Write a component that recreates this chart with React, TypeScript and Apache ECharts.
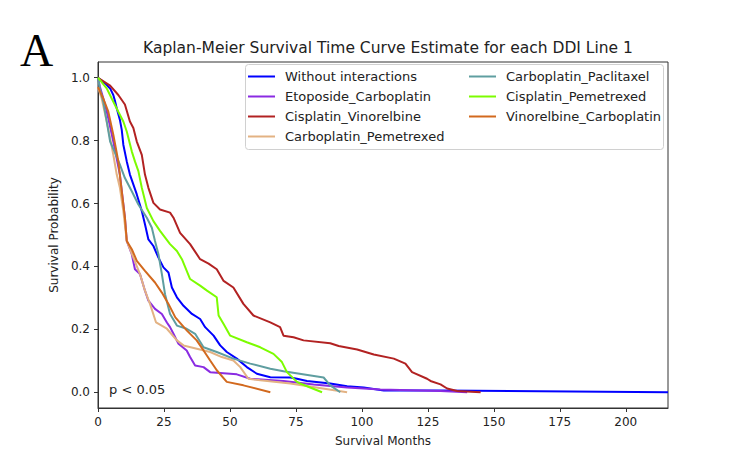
import React, { useEffect, useRef } from "react";
import * as echarts from "echarts";

// ---- Data ----
const titleText = "Kaplan-Meier Survival Time Curve Estimate for each DDI Line 1";
const xTicks = [0, 25, 50, 75, 100, 125, 150, 175, 200];
const yTicks = [0, 0.2, 0.4, 0.6, 0.8, 1.0];

const seriesNames = [
  "Without interactions",
  "Etoposide_Carboplatin",
  "Cisplatin_Vinorelbine",
  "Carboplatin_Pemetrexed",
  "Carboplatin_Paclitaxel",
  "Cisplatin_Pemetrexed",
  "Vinorelbine_Carboplatin",
];
const seriesColors = ["#0000ff", "#8a2be2", "#b22222", "#e3b283", "#5f9ea0", "#7cfc00", "#d2691e"];

const withoutMonths = [0, 2.7, 4.6, 5.8, 6.5, 7.1, 8.3, 9.0, 9.6, 10.9, 12.1, 14.7, 16.6, 17.8, 19.1, 21.0, 22.9, 24.8, 26.7, 28.0, 29.9, 32.4, 35.6, 38.7, 40.6, 43.8, 46.3, 48.8, 52.6, 56.4, 60.2, 65.3, 72.9, 75.4, 79.2, 88.0, 94.4, 100.7, 108.3, 129.8, 216];
const withoutSurv = [1.0, 0.982, 0.966, 0.945, 0.924, 0.903, 0.866, 0.834, 0.787, 0.734, 0.692, 0.629, 0.576, 0.534, 0.486, 0.465, 0.428, 0.397, 0.381, 0.333, 0.302, 0.275, 0.249, 0.233, 0.207, 0.18, 0.149, 0.128, 0.107, 0.08, 0.059, 0.048, 0.047, 0.043, 0.036, 0.028, 0.019, 0.015, 0.006, 0.006, 0.0];

const etoposideMonths = [0, 0.7, 2.7, 3.9, 5.8, 8.3, 10.2, 10.9, 12.8, 14.0, 15.9, 17.8, 19.1, 21.6, 24.2, 26.1, 27.3, 28.6, 30.5, 33.6, 34.9, 36.8, 40.0, 42.5, 52.6, 57.7, 70.3, 81.7, 94.4, 107.0, 129.8, 139.9];
const etoposideSurv = [1.0, 0.972, 0.914, 0.871, 0.797, 0.692, 0.555, 0.481, 0.439, 0.391, 0.376, 0.323, 0.291, 0.265, 0.249, 0.222, 0.207, 0.186, 0.154, 0.133, 0.112, 0.085, 0.08, 0.064, 0.057, 0.043, 0.036, 0.025, 0.015, 0.009, 0.004, 0.0];

const cisVinMonths = [0, 4.6, 7.7, 10.2, 12.1, 13.4, 14.7, 16.6, 17.8, 19.1, 21.0, 23.5, 27.3, 28.6, 31.1, 34.9, 38.7, 41.9, 45.0, 47.6, 51.3, 55.1, 58.9, 65.3, 69.0, 70.3, 74.1, 77.9, 88.0, 91.2, 98.2, 104.5, 112.1, 116.5, 119.0, 124.7, 126.0, 129.8, 132.3, 136.1, 145];
const cisVinSurv = [1.0, 0.975, 0.945, 0.915, 0.861, 0.84, 0.797, 0.755, 0.692, 0.65, 0.602, 0.581, 0.571, 0.555, 0.507, 0.471, 0.423, 0.409, 0.391, 0.354, 0.333, 0.281, 0.244, 0.222, 0.207, 0.18, 0.175, 0.165, 0.156, 0.147, 0.136, 0.12, 0.107, 0.091, 0.064, 0.043, 0.036, 0.025, 0.012, 0.004, 0.0];

const carboPemMonths = [0, 1.4, 3.3, 4.6, 5.8, 7.1, 8.3, 9.6, 10.9, 13.4, 15.9, 17.8, 19.7, 22.0, 26.1, 29.9, 32.4, 42.5, 46.9, 51.3, 53.9, 57.0, 61.5, 72.9, 94.4];
const carboPemSurv = [0.97, 0.934, 0.861, 0.808, 0.755, 0.692, 0.65, 0.576, 0.481, 0.428, 0.376, 0.323, 0.281, 0.222, 0.202, 0.165, 0.149, 0.128, 0.112, 0.101, 0.08, 0.043, 0.038, 0.028, 0.0];

const carboPacMonths = [0, 0.7, 2.0, 3.3, 4.6, 6.5, 8.3, 10.2, 12.8, 15.3, 18.5, 20.4, 21.6, 22.9, 24.2, 25.4, 27.3, 29.9, 33.6, 36.8, 40.0, 45.0, 51.3, 57.7, 65.3, 70.3, 85.5, 88.0, 91.8];
const carboPacSurv = [1.0, 0.966, 0.924, 0.861, 0.797, 0.76, 0.724, 0.681, 0.639, 0.597, 0.555, 0.523, 0.481, 0.439, 0.376, 0.312, 0.249, 0.212, 0.202, 0.186, 0.143, 0.128, 0.107, 0.091, 0.075, 0.067, 0.047, 0.022, 0.0];

const cisPemMonths = [0, 3.3, 5.2, 7.7, 9.6, 10.9, 12.8, 14.0, 15.3, 16.6, 18.5, 21.0, 23.5, 27.3, 29.9, 31.8, 34.9, 38.7, 41.3, 45.0, 45.7, 47.6, 50.1, 56.4, 61.5, 66.5, 69.7, 71.6, 75.4, 76.6, 84.9];
const cisPemSurv = [1.0, 0.966, 0.934, 0.892, 0.861, 0.829, 0.766, 0.734, 0.703, 0.65, 0.586, 0.544, 0.513, 0.471, 0.449, 0.423, 0.36, 0.339, 0.323, 0.302, 0.244, 0.217, 0.18, 0.159, 0.143, 0.122, 0.096, 0.064, 0.033, 0.028, 0.0];

const vinCarboMonths = [0, 2.0, 3.9, 5.8, 7.7, 9.0, 10.2, 10.9, 12.8, 14.7, 17.8, 21.6, 24.2, 26.7, 29.3, 33.7, 37.4, 40.0, 42.5, 45.0, 48.8, 55.1, 65.3];
const vinCarboSurv = [0.97, 0.934, 0.892, 0.819, 0.734, 0.639, 0.555, 0.481, 0.455, 0.418, 0.386, 0.349, 0.317, 0.281, 0.238, 0.196, 0.165, 0.133, 0.101, 0.07, 0.033, 0.022, 0.0];

const seriesMonths = [withoutMonths, etoposideMonths, cisVinMonths, carboPemMonths, carboPacMonths, cisPemMonths, vinCarboMonths];
const seriesSurv = [withoutSurv, etoposideSurv, cisVinSurv, carboPemSurv, carboPacSurv, cisPemSurv, vinCarboSurv];

const FONT = "DejaVu Sans";
const TEXT = "#222222";
const AXIS = "#333333";

export default function App() {
  const ref = useRef<HTMLDivElement | null>(null);

  useEffect(() => {
    if (!ref.current) return;
    const chart = echarts.init(ref.current, null, { renderer: "svg" });

    const series = seriesNames.map((name, i) => ({
      name,
      type: "line",
      data: seriesMonths[i].map((m, j) => [m, seriesSurv[i][j]]),
      symbol: "none",
      showSymbol: false,
      lineStyle: { width: 2, color: seriesColors[i] },
      itemStyle: { color: seriesColors[i] },
      z: 2,
    }));

    const legendCommon = {
      orient: "vertical",
      icon: "rect",
      itemWidth: 27,
      itemHeight: 2,
      itemGap: 5,
      textStyle: { fontFamily: FONT, fontSize: 13, color: TEXT, lineHeight: 15, padding: [0, 0, 0, 5] },
      padding: 0,
      selectedMode: false,
    };

    chart.setOption({
      animation: false,
      backgroundColor: "#ffffff",
      textStyle: { fontFamily: FONT },
      title: {
        text: titleText,
        left: 383,
        top: 35,
        textAlign: "center",
        textStyle: { fontFamily: FONT, fontSize: 15.5, fontWeight: "normal", color: TEXT },
      },
      grid: {
        left: 98,
        right: 67,
        top: 62,
        bottom: 55,
        show: true,
        borderColor: AXIS,
        borderWidth: 1,
        backgroundColor: "transparent",
      },
      legend: [
        {
          ...legendCommon,
          left: 248,
          top: 69,
          data: seriesNames.slice(0, 4),
        },
        {
          ...legendCommon,
          left: 469,
          top: 69,
          data: seriesNames.slice(4),
        },
      ],
      xAxis: {
        type: "value",
        min: 0,
        max: 216,
        name: "Survival Months",
        nameLocation: "middle",
        nameGap: 27,
        nameTextStyle: { fontFamily: FONT, fontSize: 12, color: TEXT },
        axisLine: { show: true, onZero: false, lineStyle: { color: AXIS, width: 1 } },
        axisTick: { show: true, length: 4, inside: false, customValues: xTicks, lineStyle: { color: AXIS } },
        axisLabel: { customValues: xTicks, margin: 8, fontFamily: FONT, fontSize: 12, color: TEXT },
        splitLine: { show: false },
      },
      yAxis: {
        type: "value",
        min: -0.05,
        max: 1.05,
        name: "Survival Probability",
        nameLocation: "middle",
        nameGap: 32,
        nameTextStyle: { fontFamily: FONT, fontSize: 12, color: TEXT },
        axisLine: { show: true, onZero: false, lineStyle: { color: AXIS, width: 1 } },
        axisTick: { show: true, length: 4, inside: false, customValues: yTicks, lineStyle: { color: AXIS } },
        axisLabel: {
          customValues: yTicks,
          margin: 8,
          fontFamily: FONT,
          fontSize: 12,
          color: TEXT,
          formatter: (v: number) => v.toFixed(1),
        },
        splitLine: { show: false },
      },
      graphic: [
        {
          type: "rect",
          z: 3,
          shape: { x: 245.5, y: 64.5, width: 418, height: 85, r: 3 },
          style: { fill: "rgba(255,255,255,0.85)", stroke: "#d0d0d0", lineWidth: 1 },
        },
        {
          type: "text",
          z: 5,
          x: 20,
          y: 27,
          style: { text: "A", font: "46px 'Liberation Serif'", fill: "#000" },
        },
        {
          type: "text",
          z: 5,
          x: 109,
          y: 383,
          style: { text: "p < 0.05", font: `13px '${FONT}'`, fill: TEXT },
        },
      ],
      series,
    });

    return () => {
      chart.dispose();
    };
  }, []);

  return (
    <div
      ref={ref}
      style={{ position: "fixed", left: 0, top: 0, width: 735, height: 463, background: "#fff" }}
    />
  );
}
